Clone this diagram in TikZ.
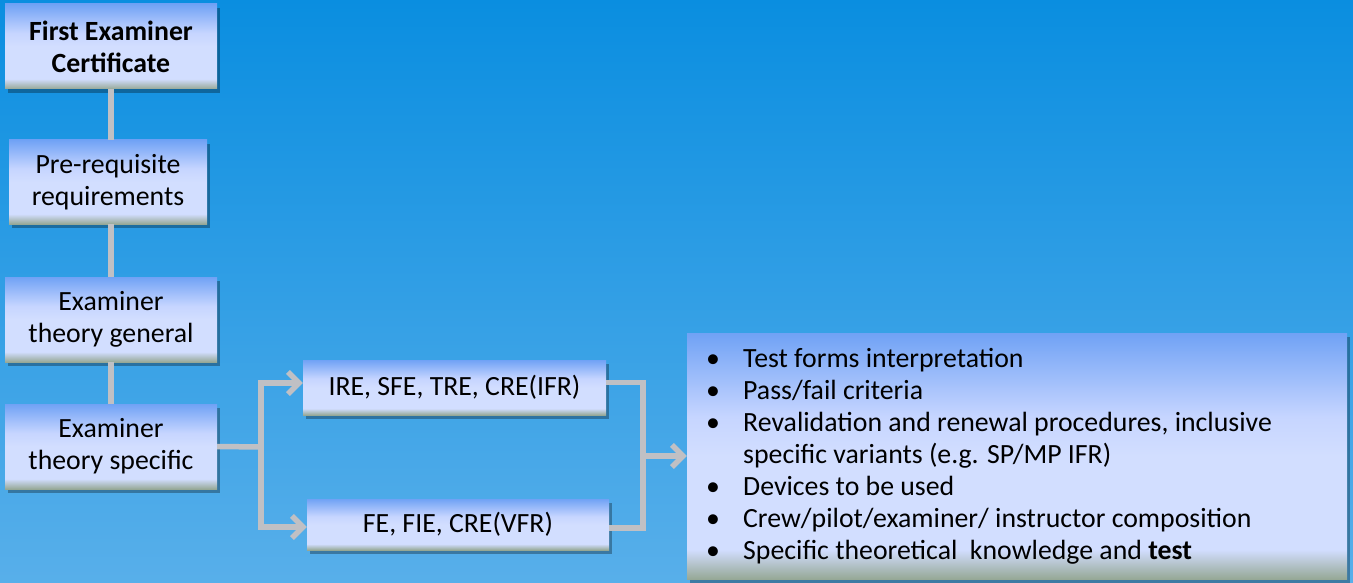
\documentclass[tikz,border=0pt]{standalone}
\usepackage{fontspec}
\setmainfont{Carlito}
\usetikzlibrary{arrows.meta,shadows}
\definecolor{bgtop}{RGB}{10,142,224}
\definecolor{bgbot}{RGB}{88,175,234}
\definecolor{bxblue}{RGB}{112,162,245}
\definecolor{bxlav}{RGB}{210,222,255}
\definecolor{bxlav2}{RGB}{198,213,255}
\definecolor{bxgreen}{RGB}{150,168,150}
\definecolor{linegray}{RGB}{192,192,196}
\pgfdeclareverticalshading{boxshade}{100bp}{color(0bp)=(bxgreen); color(25bp)=(bxgreen); color(31bp)=(bxlav); color(50bp)=(bxlav); color(58bp)=(bxlav2); color(75bp)=(bxblue); color(100bp)=(bxblue)}
\pgfdeclareverticalshading{bgshade}{100bp}{color(0bp)=(bgbot); color(25bp)=(bgbot); color(75bp)=(bgtop); color(100bp)=(bgtop)}
\tikzset{
  stepbox/.style={shading=boxshade, inner sep=0pt, align=center,
    font=\fontsize{27.8}{32}\selectfont,
    drop shadow={shadow xshift=3pt, shadow yshift=-4pt, fill=black, opacity=0.3}},
  conn/.style={draw=linegray, line width=5.5pt},
  arr/.style={conn, -{Straight Barb[length=11pt,width=22pt]}}
}
\begin{document}
\begin{tikzpicture}[x=1pt,y=-1pt]
\shade[shading=bgshade] (0,0) rectangle (1353,583);
\useasboundingbox (0,0) rectangle (1353,583);
% left column
\node[stepbox, minimum width=212pt, minimum height=85pt] (b1) at (111,46.5) {\textbf{First Examiner}\\\textbf{Certificate}};
\node[stepbox, minimum width=198pt, minimum height=84pt] (b2) at (108,182) {Pre-requisite\\requirements};
\node[stepbox, minimum width=212pt, minimum height=85pt] (b3) at (111,319.5) {Examiner\\theory general};
\node[stepbox, minimum width=212pt, minimum height=85pt] (b4) at (111,446.5) {Examiner\\theory specific};
% middle
\node[stepbox, minimum width=303pt, minimum height=55pt] (b5) at (454.5,387.5) {IRE, SFE, TRE, CRE(IFR)};
\node[stepbox, minimum width=302pt, minimum height=51pt] (b6) at (458,524.5) {FE, FIE, CRE(VFR)};
% right box
\node[stepbox, minimum width=660pt, minimum height=246pt] (rb) at (1017,456) {};
\node[anchor=north west, inner sep=0pt, align=left, font=\fontsize{27.8}{32}\selectfont] (list) at (706,343)
 {\rule{0pt}{24pt}\makebox[37pt][l]{\textbullet}Test forms interpretation\\
  \makebox[37pt][l]{\textbullet}Pass/fail criteria\\
  \makebox[37pt][l]{\textbullet}Revalidation and renewal procedures, inclusive\\
  \hspace*{37pt}specific variants (e.g. SP/MP IFR)\\
  \makebox[37pt][l]{\textbullet}Devices to be used\\
  \makebox[37pt][l]{\textbullet}Crew/pilot/examiner/ instructor composition\\
  \makebox[37pt][l]{\textbullet}Specific theoretical~ knowledge and \textbf{test}};
% connectors
\coordinate (j1) at (261,447);
\coordinate (j2) at (643,456);
\draw[conn] (b1.south) -- (b1.south |- b2.north);
\draw[conn] (b2.south -| b1) -- (b1.south |- b3.north);
\draw[conn] (b3.south) -- (b4.north);
\draw[conn] (b4.east) -- (j1);
\draw[arr] (j1) |- ([yshift=4.5pt]b5.west);
\draw[arr] (j1) |- ([yshift=-2.5pt]b6.west);
\draw[conn] ([yshift=5pt]b5.east) -| (j2) |- ([yshift=-3.5pt]b6.east);
\draw[arr] (j2) -- (rb.west);
\end{tikzpicture}
\end{document}
